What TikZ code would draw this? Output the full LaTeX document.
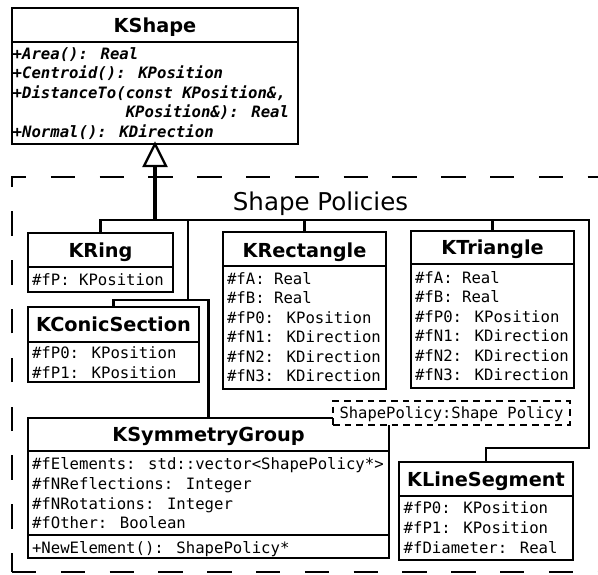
\documentclass[tikz,border=0pt]{standalone}
\usepackage{fontspec}
\setmainfont{DejaVu Sans}
\newfontfamily\monofont{DejaVu Sans Mono}
\tikzset{
  boxline/.style={line width=2.4pt},
  classbox/.style={draw, line width=2.4pt, fill=white, inner sep=0pt, outer sep=0pt},
  titletext/.style={anchor=base, inner sep=0pt, font=\bfseries\fontsize{19.3}{23}\selectfont},
  attrtext/.style={anchor=base west, inner sep=0pt, font=\monofont\fontsize{15.65}{19.5}\selectfont},
  methtext/.style={anchor=base west, inner sep=0pt, font=\monofont\bfseries\itshape\fontsize{15.65}{19.5}\selectfont},
  conn/.style={line width=2.4pt},
  trunkline/.style={line width=4.5pt},
  pkgframe/.style={line width=2.2pt, dash pattern=on 24.4pt off 24.4pt},
  tmplbox/.style={draw, fill=white, line width=2pt, dash pattern=on 6.7pt off 5pt, inner sep=0pt, outer sep=0pt,
    font=\monofont\fontsize{15.5}{19}\selectfont, text height=12pt, text depth=1.5pt}
}
\newcommand\umlclass[8]{%
  \node[classbox, minimum width={(#4-#2)*1pt}, minimum height={(#5-#3)*1pt}] (#1) at ({(#2+#4)/2},{(#3+#5)/2}) {};
  \draw[boxline] (#2,#6) -- (#4,#6);
  \node[titletext] (#1-title) at ({(#2+#4)/2},#8) {#7};
}
\newcommand\attr[4]{\node[attrtext] (#1) at (#2,#3) {#4};}
\begin{document}
\begin{tikzpicture}[x=1pt,y=-1pt]
\useasboundingbox (0,0) rectangle (598,574);
\clip (0,0) rectangle (598,574);

% package frame
\draw[pkgframe, dash phase=5.4pt] (12,572) -- (12,177) -- (640,177);
\draw[pkgframe] (12,572) -- (640,572);
\node[anchor=base, inner sep=0pt, font=\fontsize{24.5}{29}\selectfont] (pkglabel) at (320.5,210) {Shape Policies};

% KShape
\umlclass{kshape}{12}{8}{298}{144}{42}{KShape}{32}
\node[methtext] (m1) at (12.5,59) {+Area(): Real};
\node[methtext] (m2) at (12.5,78.5) {+Centroid(): KPosition};
\node[methtext] (m3) at (12.5,98) {+DistanceTo(const KPosition\&,};
\node[methtext] (m4) at (12.5,117.5) {\phantom{+DistanceTo(}KPosition\&): Real};
\node[methtext] (m5) at (12.5,137) {+Normal(): KDirection};

% KRing
\umlclass{kring}{28}{233}{173}{292}{267}{KRing}{257}
\attr{kring-a1}{31.8}{285}{\#fP: KPosition}

% KConicSection
\umlclass{kconic}{28}{307}{199}{382}{342}{KConicSection}{331}
\attr{kconic-a1}{31.8}{358.5}{\#fP0: KPosition}
\attr{kconic-a2}{31.8}{378}{\#fP1: KPosition}

% KRectangle
\umlclass{krect}{223}{232}{386}{389}{266}{KRectangle}{257}
\attr{krect-a1}{226.8}{284}{\#fA: Real}
\attr{krect-a2}{226.8}{303.5}{\#fB: Real}
\attr{krect-a3}{226.8}{323}{\#fP0: KPosition}
\attr{krect-a4}{226.8}{342.5}{\#fN1: KDirection}
\attr{krect-a5}{226.8}{362}{\#fN2: KDirection}
\attr{krect-a6}{226.8}{381.5}{\#fN3: KDirection}

% KTriangle
\umlclass{ktri}{411}{231}{574}{388}{264}{KTriangle}{254.5}
\attr{ktri-a1}{414.8}{283}{\#fA: Real}
\attr{ktri-a2}{414.8}{302.5}{\#fB: Real}
\attr{ktri-a3}{414.8}{322}{\#fP0: KPosition}
\attr{ktri-a4}{414.8}{341.5}{\#fN1: KDirection}
\attr{ktri-a5}{414.8}{361}{\#fN2: KDirection}
\attr{ktri-a6}{414.8}{380.5}{\#fN3: KDirection}

% KSymmetryGroup
\umlclass{ksym}{28}{418}{389}{558}{451}{KSymmetryGroup}{441}
\draw[boxline] (28,535) -- (389,535);
\attr{ksym-a1}{31.8}{469}{\#fElements: std::vector<ShapePolicy*>}
\attr{ksym-a2}{31.8}{489}{\#fNReflections: Integer}
\attr{ksym-a3}{31.8}{509}{\#fNRotations: Integer}
\attr{ksym-a4}{31.8}{528.5}{\#fOther: Boolean}
\attr{ksym-m1}{31.8}{553}{+NewElement(): ShapePolicy*}

% template parameter
\node[tmplbox, minimum width=237pt, minimum height=23.5pt] (tparam) at (451.5,412.75) {ShapePolicy:Shape Policy};

% KLineSegment
\umlclass{kline}{399}{462}{573}{560}{496}{KLineSegment}{486}
\attr{kline-a1}{403.5}{513.5}{\#fP0: KPosition}
\attr{kline-a2}{403.5}{533.3}{\#fP1: KPosition}
\attr{kline-a3}{403.5}{553}{\#fDiameter: Real}

% connectors
\coordinate (trunk) at (155,220);
\coordinate (busR) at (589,220);
\coordinate (bend) at (589,448);
\coordinate (j1) at (188,220);
\coordinate (j2) at (188,300);
\draw[trunkline] (trunk) -- ++(0,-53);
\draw[conn, fill=white, line join=miter] (kshape.south) -- ++(11,22) -- ++(-22,0) -- cycle;
\draw[conn] (kring.north) |- (busR) -- (bend) -| (kline.north);
\draw[conn] (krect.north) -- (krect.north |- busR);
\draw[conn] (ktri.north) -- (ktri.north |- busR);
\draw[conn] (j1) -- (j2);
\draw[conn] (kconic.north) |- (j2);
\draw[conn] (ksym.north) |- (j2);
\end{tikzpicture}
\end{document}
